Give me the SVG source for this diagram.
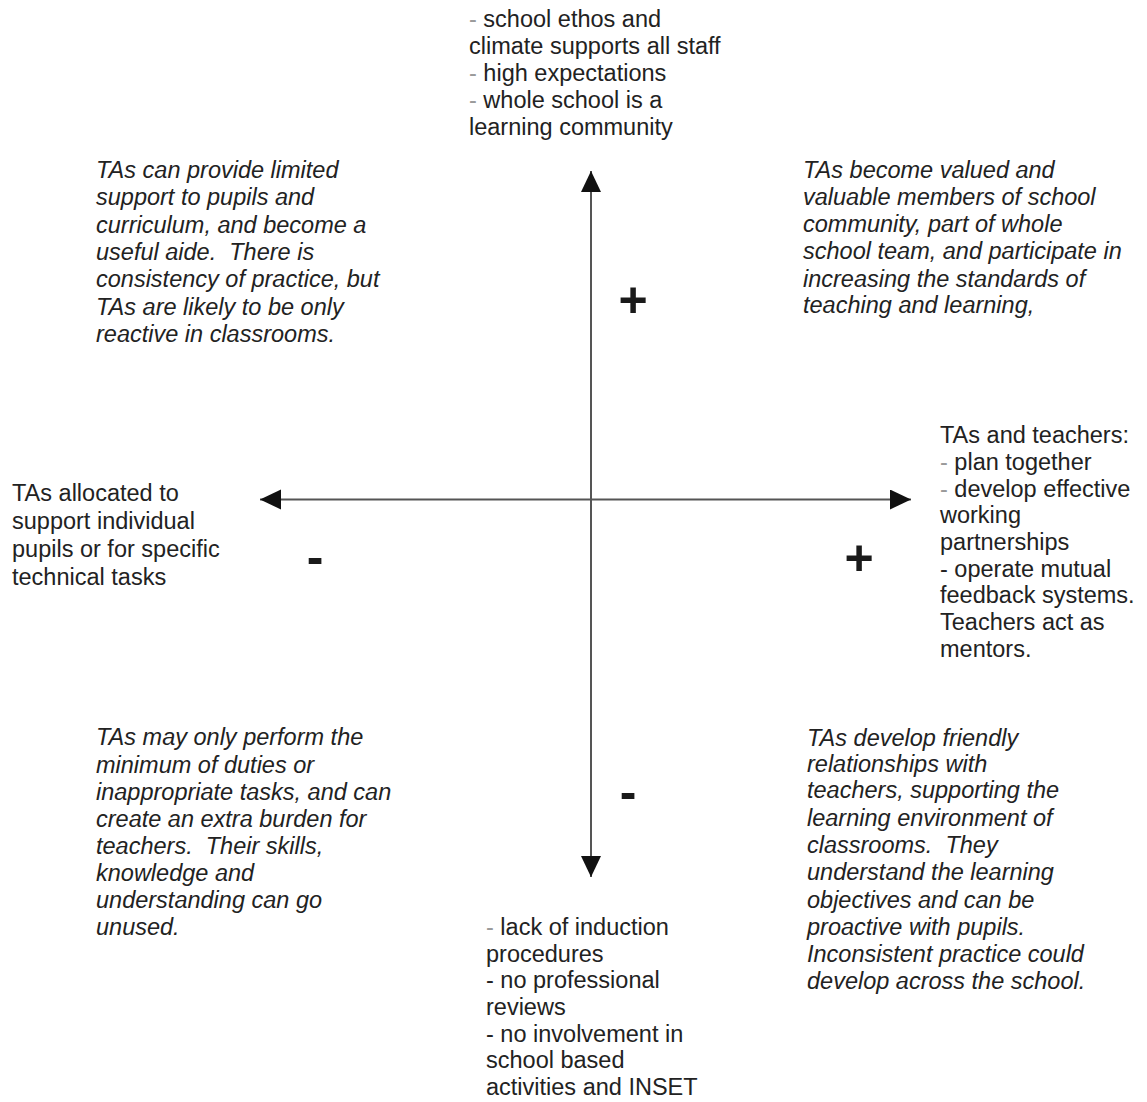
<svg xmlns="http://www.w3.org/2000/svg" width="1147" height="1102" viewBox="0 0 1147 1102">
<style>
  text { font-family: "Liberation Sans", Arial, sans-serif; font-size: 23.5px; fill: #222; }
  .it { font-style: italic; }
  .faint { fill: #9a9a9a; }
  .sym { font-size: 50px; font-weight: bold; fill: #1a1a1a; text-anchor: middle; }
  .axis { stroke: #555; stroke-width: 2; fill: none; }
</style>
<defs>
  <marker id="ah" markerUnits="userSpaceOnUse" markerWidth="22" markerHeight="22" refX="21" refY="10" orient="auto-start-reverse">
    <path d="M0,0 L21,10 L0,20 z" fill="#111"/>
  </marker>
</defs>
<rect width="1147" height="1102" fill="#fff"/>

<g id="connectors">
  <line class="axis" x1="591" y1="877" x2="591" y2="171" marker-start="url(#ah)" marker-end="url(#ah)"/>
  <line class="axis" x1="260" y1="499.5" x2="911" y2="499.5" marker-start="url(#ah)" marker-end="url(#ah)"/>
</g>

<g id="signs">
  <text class="sym" x="633" y="317">+</text>
  <text class="sym" x="859" y="575">+</text>
  <text class="sym" x="315" y="574">-</text>
  <text class="sym" x="628" y="809">-</text>
</g>

<g id="top">
  <text x="469" y="27"><tspan class="faint">- </tspan>school ethos and</text>
  <text x="469" y="54">climate supports all staff</text>
  <text x="469" y="81"><tspan class="faint">- </tspan>high expectations</text>
  <text x="469" y="108"><tspan class="faint">- </tspan>whole school is a</text>
  <text x="469" y="135">learning community</text>
</g>

<g id="top-left">
  <text class="it" x="96" y="178">TAs can provide limited</text>
  <text class="it" x="96" y="205">support to pupils and</text>
  <text class="it" x="96" y="233">curriculum, and become a</text>
  <text class="it" x="96" y="260">useful aide.&#160; There is</text>
  <text class="it" x="96" y="287">consistency of practice, but</text>
  <text class="it" x="96" y="315">TAs are likely to be only</text>
  <text class="it" x="96" y="342">reactive in classrooms.</text>
</g>

<g id="top-right">
  <text class="it" x="803" y="178">TAs become valued and</text>
  <text class="it" x="803" y="205">valuable members of school</text>
  <text class="it" x="803" y="232">community, part of whole</text>
  <text class="it" x="803" y="259">school team, and participate in</text>
  <text class="it" x="803" y="287">increasing the standards of</text>
  <text class="it" x="803" y="313">teaching and learning,</text>
</g>

<g id="left">
  <text x="12" y="501">TAs allocated to</text>
  <text x="12" y="529">support individual</text>
  <text x="12" y="557">pupils or for specific</text>
  <text x="12" y="585">technical tasks</text>
</g>

<g id="right">
  <text x="940" y="443">TAs and teachers:</text>
  <text x="940" y="470"><tspan class="faint">- </tspan>plan together</text>
  <text x="940" y="497"><tspan class="faint">- </tspan>develop effective</text>
  <text x="940" y="523">working</text>
  <text x="940" y="550">partnerships</text>
  <text x="940" y="577">- operate mutual</text>
  <text x="940" y="603">feedback systems.</text>
  <text x="940" y="630">Teachers act as</text>
  <text x="940" y="657">mentors.</text>
</g>

<g id="bottom-left">
  <text class="it" x="96" y="745">TAs may only perform the</text>
  <text class="it" x="96" y="773">minimum of duties or</text>
  <text class="it" x="96" y="800">inappropriate tasks, and can</text>
  <text class="it" x="96" y="827">create an extra burden for</text>
  <text class="it" x="96" y="854">teachers.&#160; Their skills,</text>
  <text class="it" x="96" y="881">knowledge and</text>
  <text class="it" x="96" y="908">understanding can go</text>
  <text class="it" x="96" y="935">unused.</text>
</g>

<g id="bottom">
  <text x="486" y="935"><tspan class="faint">- </tspan>lack of induction</text>
  <text x="486" y="962">procedures</text>
  <text x="486" y="988">- no professional</text>
  <text x="486" y="1015">reviews</text>
  <text x="486" y="1042">- no involvement in</text>
  <text x="486" y="1068">school based</text>
  <text x="486" y="1095">activities and INSET</text>
</g>

<g id="bottom-right">
  <text class="it" x="807" y="746">TAs develop friendly</text>
  <text class="it" x="807" y="772">relationships with</text>
  <text class="it" x="807" y="798">teachers, supporting the</text>
  <text class="it" x="807" y="826">learning environment of</text>
  <text class="it" x="807" y="853">classrooms.&#160; They</text>
  <text class="it" x="807" y="880">understand the learning</text>
  <text class="it" x="807" y="908">objectives and can be</text>
  <text class="it" x="807" y="935">proactive with pupils.</text>
  <text class="it" x="807" y="962">Inconsistent practice could</text>
  <text class="it" x="807" y="989">develop across the school.</text>
</g>
</svg>
